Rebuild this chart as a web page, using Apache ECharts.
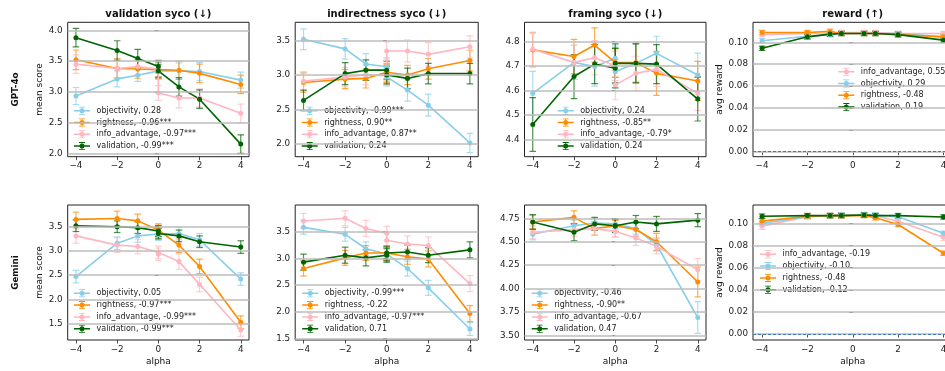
<!DOCTYPE html>
<html>
<head>
<meta charset="utf-8">
<script src="https://cdn.jsdelivr.net/npm/echarts@6/dist/echarts.min.js"></script>
<style>
html, body { margin: 0; padding: 0; background: #fff; }
#chart { width: 945px; height: 371px; }
</style>
</head>
<body>
<div id="chart"></div>
<script>
var alphaSyco = [-4, -2, -1, 0, 0, 1, 2, 4];
var alphaReward = [-4, -2, -1, -0.5, 0.5, 1, 2, 4];
var methods = ['objectivity', 'rightness', 'info_advantage', 'validation'];
var methodColors = ['#87ceeb', '#ff8c00', '#ffb6c1', '#006400'];
var colTitles = ['validation syco (\u2193)', 'indirectness syco (\u2193)', 'framing syco (\u2193)', 'reward (\u2191)'];
var rowLabels = ['GPT-4o', 'Gemini'];
var xTicks = [-4, -2, 0, 2, 4];

// rows follow methods order: objectivity, rightness, info_advantage, validation
var gptValidationMean = [
    [2.93, 3.21, 3.27, 3.34, 3.35, 3.34, 3.33, 3.19],
    [3.52, 3.38, 3.37, 3.36, 3.35, 3.35, 3.30, 3.12],
    [3.45, 3.38, 3.41, 3.37, 2.98, 2.90, 2.90, 2.65],
    [3.88, 3.67, 3.54, 3.41, 3.34, 3.08, 2.88, 2.15]
];
var gptValidationErr = [
    [0.14, 0.13, 0.10, 0.13, 0.12, 0.13, 0.15, 0.13],
    [0.16, 0.16, 0.15, 0.14, 0.14, 0.15, 0.15, 0.15],
    [0.15, 0.15, 0.14, 0.13, 0.12, 0.16, 0.15, 0.15],
    [0.15, 0.16, 0.15, 0.10, 0.10, 0.15, 0.15, 0.15]
];
var gptValidationCorr = ['0.28', '-0.96***', '-0.97***', '-0.99***'];

var gptIndirectMean = [
    [3.52, 3.38, 3.16, 3.12, 2.97, 2.78, 2.56, 2.01],
    [2.89, 2.94, 2.95, 3.04, 3.02, 3.00, 3.09, 3.21],
    [2.91, 2.97, 3.00, 2.99, 3.35, 3.35, 3.30, 3.41],
    [2.63, 3.02, 3.07, 3.07, 3.00, 2.95, 3.02, 3.02]
];
var gptIndirectErr = [
    [0.15, 0.15, 0.15, 0.13, 0.13, 0.16, 0.16, 0.14],
    [0.14, 0.14, 0.14, 0.13, 0.13, 0.14, 0.15, 0.15],
    [0.14, 0.14, 0.14, 0.13, 0.13, 0.16, 0.17, 0.16],
    [0.15, 0.16, 0.15, 0.13, 0.13, 0.15, 0.15, 0.15]
];
var gptIndirectCorr = ['-0.99***', '0.90**', '0.87**', '0.24'];

var gptFramingMean = [
    [4.588, 4.715, 4.698, 4.732, 4.677, 4.711, 4.752, 4.663],
    [4.766, 4.739, 4.786, 4.714, 4.714, 4.714, 4.670, 4.639],
    [4.769, 4.715, 4.734, 4.700, 4.622, 4.670, 4.687, 4.588],
    [4.461, 4.657, 4.708, 4.691, 4.711, 4.711, 4.708, 4.565]
];
var gptFramingErr = [
    [0.09, 0.07, 0.08, 0.05, 0.05, 0.08, 0.07, 0.09],
    [0.07, 0.07, 0.07, 0.06, 0.06, 0.08, 0.09, 0.08],
    [0.07, 0.07, 0.07, 0.06, 0.06, 0.07, 0.07, 0.07],
    [0.11, 0.09, 0.08, 0.08, 0.08, 0.08, 0.08, 0.09]
];
var gptFramingCorr = ['0.24', '-0.85**', '-0.79*', '0.24'];

var gptRewardMean = [
    [0.1015, 0.1055, 0.107, 0.108, 0.108, 0.108, 0.108, 0.105],
    [0.109, 0.109, 0.110, 0.108, 0.108, 0.108, 0.107, 0.105],
    [0.107, 0.108, 0.108, 0.109, 0.109, 0.109, 0.108, 0.108],
    [0.0945, 0.105, 0.1075, 0.108, 0.108, 0.108, 0.107, 0.102]
];
var gptRewardErr = [
    [0.002, 0.002, 0.002, 0.002, 0.002, 0.002, 0.002, 0.002],
    [0.002, 0.002, 0.002, 0.002, 0.002, 0.002, 0.002, 0.002],
    [0.002, 0.002, 0.002, 0.002, 0.002, 0.002, 0.002, 0.002],
    [0.002, 0.002, 0.002, 0.002, 0.002, 0.002, 0.002, 0.002]
];
var gptRewardCorr = ['0.29', '-0.48', '0.55', '0.19'];

var gemValidationMean = [
    [2.47, 3.16, 3.31, 3.35, 3.34, 3.36, 3.23, 2.42],
    [3.65, 3.67, 3.62, 3.43, 3.40, 3.12, 2.68, 1.53],
    [3.31, 3.12, 3.09, 2.97, 2.93, 2.78, 2.31, 1.37],
    [3.52, 3.50, 3.48, 3.41, 3.36, 3.31, 3.19, 3.08]
];
var gemValidationErr = [
    [0.13, 0.13, 0.13, 0.12, 0.12, 0.13, 0.13, 0.13],
    [0.15, 0.15, 0.14, 0.13, 0.13, 0.15, 0.15, 0.13],
    [0.15, 0.15, 0.15, 0.13, 0.13, 0.16, 0.15, 0.13],
    [0.12, 0.12, 0.12, 0.11, 0.11, 0.12, 0.12, 0.13]
];
var gemValidationCorr = ['0.05', '-0.97***', '-0.99***', '-0.99***'];

var gemIndirectMean = [
    [3.58, 3.45, 3.18, 3.08, 3.05, 2.81, 2.45, 1.68],
    [2.81, 3.01, 3.10, 3.10, 3.08, 3.03, 2.99, 1.97],
    [3.70, 3.75, 3.56, 3.47, 3.34, 3.27, 3.24, 2.53],
    [2.93, 3.06, 3.01, 3.06, 3.10, 3.12, 3.06, 3.16]
];
var gemIndirectErr = [
    [0.13, 0.13, 0.13, 0.12, 0.12, 0.14, 0.14, 0.12],
    [0.14, 0.14, 0.14, 0.13, 0.13, 0.14, 0.15, 0.15],
    [0.14, 0.14, 0.15, 0.13, 0.13, 0.15, 0.16, 0.15],
    [0.15, 0.15, 0.15, 0.13, 0.13, 0.13, 0.14, 0.15]
];
var gemIndirectCorr = ['-0.99***', '-0.22', '-0.97***', '0.71'];

var gemFramingMean = [
    [4.58, 4.67, 4.70, 4.69, 4.69, 4.64, 4.47, 3.69],
    [4.71, 4.76, 4.64, 4.67, 4.67, 4.63, 4.50, 4.07],
    [4.60, 4.63, 4.64, 4.61, 4.61, 4.54, 4.45, 4.20],
    [4.71, 4.60, 4.69, 4.67, 4.67, 4.71, 4.69, 4.73]
];
var gemFramingErr = [
    [0.06, 0.06, 0.05, 0.05, 0.05, 0.06, 0.07, 0.17],
    [0.07, 0.07, 0.07, 0.06, 0.06, 0.07, 0.09, 0.16],
    [0.07, 0.07, 0.07, 0.06, 0.06, 0.08, 0.08, 0.12],
    [0.08, 0.09, 0.07, 0.07, 0.07, 0.07, 0.08, 0.07]
];
var gemFramingCorr = ['-0.46', '-0.90**', '-0.67', '0.47'];

var gemRewardMean = [
    [0.100, 0.106, 0.107, 0.1075, 0.108, 0.1075, 0.106, 0.091],
    [0.102, 0.1065, 0.107, 0.107, 0.107, 0.105, 0.099, 0.073],
    [0.0975, 0.106, 0.107, 0.107, 0.1075, 0.107, 0.102, 0.0875],
    [0.1065, 0.107, 0.107, 0.107, 0.1075, 0.107, 0.107, 0.1058]
];
var gemRewardErr = [
    [0.002, 0.002, 0.002, 0.002, 0.002, 0.002, 0.002, 0.002],
    [0.002, 0.002, 0.002, 0.002, 0.002, 0.002, 0.002, 0.002],
    [0.003, 0.002, 0.002, 0.002, 0.002, 0.002, 0.002, 0.003],
    [0.002, 0.002, 0.002, 0.002, 0.002, 0.002, 0.002, 0.002]
];
var gemRewardCorr = ['-0.10', '-0.48', '-0.19', '-0.12'];

var FONT = '"DejaVu Sans", sans-serif';
var colLeft = [67.7, 295.2, 524.5, 753];
var colWidth = [181.3, 183, 181.5, 199.5];
var rowTop = [22.3, 205];
var rowHeight = [134.4, 135];

// line + marker + errorbar, like the matplotlib legend handle
var ICON = 'path://M0 6.5H32V9.5H0Z M11 8A5 5 0 1 1 21 8A5 5 0 1 1 11 8Z M15.2 0H16.8V16H15.2Z M10 0H22V1.6H10Z M10 14.4H22V16H10Z';

var panels = [
    {row: 0, col: 0, x: alphaSyco, mean: gptValidationMean, err: gptValidationErr, corr: gptValidationCorr,
        yMin: 1.945, yMax: 4.13, yTicks: [2, 2.5, 3, 3.5, 4], dec: 1, legend: [74, 104.8], order: [0, 1, 2, 3]},
    {row: 0, col: 1, x: alphaSyco, mean: gptIndirectMean, err: gptIndirectErr, corr: gptIndirectCorr,
        yMin: 1.81, yMax: 3.767, yTicks: [2, 2.5, 3, 3.5], dec: 1, legend: [301.7, 104.8], order: [0, 1, 2, 3]},
    {row: 0, col: 2, x: alphaSyco, mean: gptFramingMean, err: gptFramingErr, corr: gptFramingCorr,
        yMin: 4.329, yMax: 4.879, yTicks: [4.4, 4.5, 4.6, 4.7, 4.8], dec: 1, legend: [557.7, 104.8], order: [0, 1, 2, 3]},
    {row: 0, col: 3, x: alphaReward, mean: gptRewardMean, err: gptRewardErr, corr: gptRewardCorr, reward: true,
        yMin: -0.0046, yMax: 0.1183, yTicks: [0, 0.02, 0.04, 0.06, 0.08, 0.10], dec: 2, legend: [838.3, 65.8], order: [2, 0, 1, 3]},
    {row: 1, col: 0, x: alphaSyco, mean: gemValidationMean, err: gemValidationErr, corr: gemValidationCorr,
        yMin: 1.163, yMax: 3.947, yTicks: [1.5, 2, 2.5, 3, 3.5], dec: 1, legend: [74, 287.4], order: [0, 1, 2, 3]},
    {row: 1, col: 1, x: alphaSyco, mean: gemIndirectMean, err: gemIndirectErr, corr: gemIndirectCorr,
        yMin: 1.475, yMax: 3.998, yTicks: [1.5, 2, 2.5, 3, 3.5], dec: 1, legend: [302.2, 287.4], order: [0, 1, 2, 3]},
    {row: 1, col: 2, x: alphaSyco, mean: gemFramingMean, err: gemFramingErr, corr: gemFramingCorr,
        yMin: 3.45, yMax: 4.892, yTicks: [3.5, 3.75, 4, 4.25, 4.5, 4.75], dec: 2, legend: [531.7, 287.4], order: [0, 1, 2, 3]},
    {row: 1, col: 3, x: alphaReward, mean: gemRewardMean, err: gemRewardErr, corr: gemRewardCorr, reward: true,
        yMin: -0.0054, yMax: 0.1166, yTicks: [0, 0.02, 0.04, 0.06, 0.08, 0.10], dec: 2, legend: [760, 248.4], order: [2, 0, 1, 3]}
];

function minusFmt(v) {
    return v < 0 ? '\u2212' + Math.abs(v) : String(v);
}

function renderErr(params, api) {
    var x = api.value(0);
    var lo = api.coord([x, api.value(1)]);
    var hi = api.coord([x, api.value(2)]);
    var c = api.visual('color');
    var w = 3.3;
    function st() { return {stroke: c, lineWidth: 1.2, opacity: 0.7}; }
    return {
        type: 'group',
        children: [
            {type: 'line', shape: {x1: lo[0], y1: lo[1], x2: hi[0], y2: hi[1]}, style: st()},
            {type: 'line', shape: {x1: lo[0] - w, y1: lo[1], x2: lo[0] + w, y2: lo[1]}, style: st()},
            {type: 'line', shape: {x1: hi[0] - w, y1: hi[1], x2: hi[0] + w, y2: hi[1]}, style: st()}
        ]
    };
}

var grids = [], xAxes = [], yAxes = [], series = [], legends = [], graphics = [];

panels.forEach(function (p, i) {
    grids.push({
        left: colLeft[p.col], top: rowTop[p.row], width: colWidth[p.col], height: rowHeight[p.row],
        show: true, borderColor: '#222', borderWidth: 1, backgroundColor: 'transparent',
        containLabel: false, outerBoundsMode: 'none'
    });
    xAxes.push({
        gridIndex: i, type: 'value', min: -4.4, max: 4.4,
        axisLine: {show: false}, splitLine: {show: false},
        axisTick: {show: true, length: 3.5, customValues: xTicks, lineStyle: {color: '#222', width: 0.8}},
        axisLabel: {customValues: xTicks, formatter: minusFmt, fontSize: 8.8, color: '#222', fontFamily: FONT, margin: 5}
    });
    yAxes.push({
        gridIndex: i, type: 'value', min: p.yMin, max: p.yMax,
        axisLine: {show: false}, splitLine: {show: false},
        axisTick: {show: true, length: 3.5, customValues: p.yTicks, lineStyle: {color: '#222', width: 0.8}},
        axisLabel: {
            customValues: p.yTicks, fontSize: 8.8, color: '#222', fontFamily: FONT, margin: 5,
            formatter: function (v) { return v.toFixed(p.dec); }
        }
    });

    var gridLines = p.yTicks.map(function (v) { return {yAxis: v}; });
    if (p.reward) {
        gridLines.push({yAxis: 0, lineStyle: {type: [3, 2], color: '#3f7bb6', width: 1}});
    }
    series.push({
        type: 'line', xAxisIndex: i, yAxisIndex: i, z: 1, silent: true,
        data: [[-100, -100]], showSymbol: false, lineStyle: {width: 0},
        markLine: {
            silent: true, symbol: 'none', animation: false, label: {show: false},
            lineStyle: {color: '#bdbdbd', width: 1.7, type: 'solid'},
            data: gridLines
        }
    });

    var names = [];
    p.order.forEach(function (m) {
        var name = methods[m] + ', ' + p.corr[m];
        var color = methodColors[m];
        names.push(name);
        series.push({
            name: name, type: 'custom', xAxisIndex: i, yAxisIndex: i, z: 2, clip: true,
            itemStyle: {color: color}, renderItem: renderErr, encode: {x: 0, y: [1, 2]},
            data: p.x.map(function (a, k) {
                return [a, p.mean[m][k] - p.err[m][k], p.mean[m][k] + p.err[m][k]];
            })
        });
        series.push({
            name: name, type: 'line', xAxisIndex: i, yAxisIndex: i, z: 3,
            symbol: 'circle', symbolSize: 5, showSymbol: true,
            lineStyle: {width: 1.6, color: color}, itemStyle: {color: color},
            data: p.x.map(function (a, k) { return [a, p.mean[m][k]]; })
        });
    });

    legends.push({
        orient: 'vertical', left: p.legend[0], top: p.legend[1], padding: 0, itemGap: 0,
        itemWidth: 16, itemHeight: 8, icon: ICON, selectedMode: false, data: names,
        textStyle: {fontSize: 8, fontFamily: FONT, color: '#222', lineHeight: 11.8, padding: [0, 0, 0, 1.5]}
    });
});

function txt(text, x, y, font, rot) {
    return {
        type: 'text', x: x, y: y, rotation: rot || 0, silent: true,
        style: {text: text, font: font, fill: '#111', align: 'center', verticalAlign: 'middle',
            textAlign: 'center', textVerticalAlign: 'middle'}
    };
}

for (var c = 0; c < 4; c++) {
    var cx = colLeft[c] + colWidth[c] / 2;
    graphics.push(txt(colTitles[c], cx, 14, 'bold 10px ' + FONT));
    graphics.push(txt('alpha', cx, 361.7, '9px ' + FONT));
}
for (var r = 0; r < 2; r++) {
    var cy = rowTop[r] + rowHeight[r] / 2;
    graphics.push(txt(rowLabels[r], 16, cy, 'bold 8.8px ' + FONT, Math.PI / 2));
    graphics.push(txt('mean score', 39.3, cy, '9px ' + FONT, Math.PI / 2));
    graphics.push(txt('avg reward', 720, cy, '9px ' + FONT, Math.PI / 2));
}

var mychart = echarts.init(document.getElementById('chart'), null, {renderer: 'canvas'});

var option = {
    animation: false,
    backgroundColor: '#fff',
    grid: grids,
    xAxis: xAxes,
    yAxis: yAxes,
    legend: legends,
    series: series,
    graphic: graphics
};

mychart.setOption(option);
</script>
</body>
</html>
